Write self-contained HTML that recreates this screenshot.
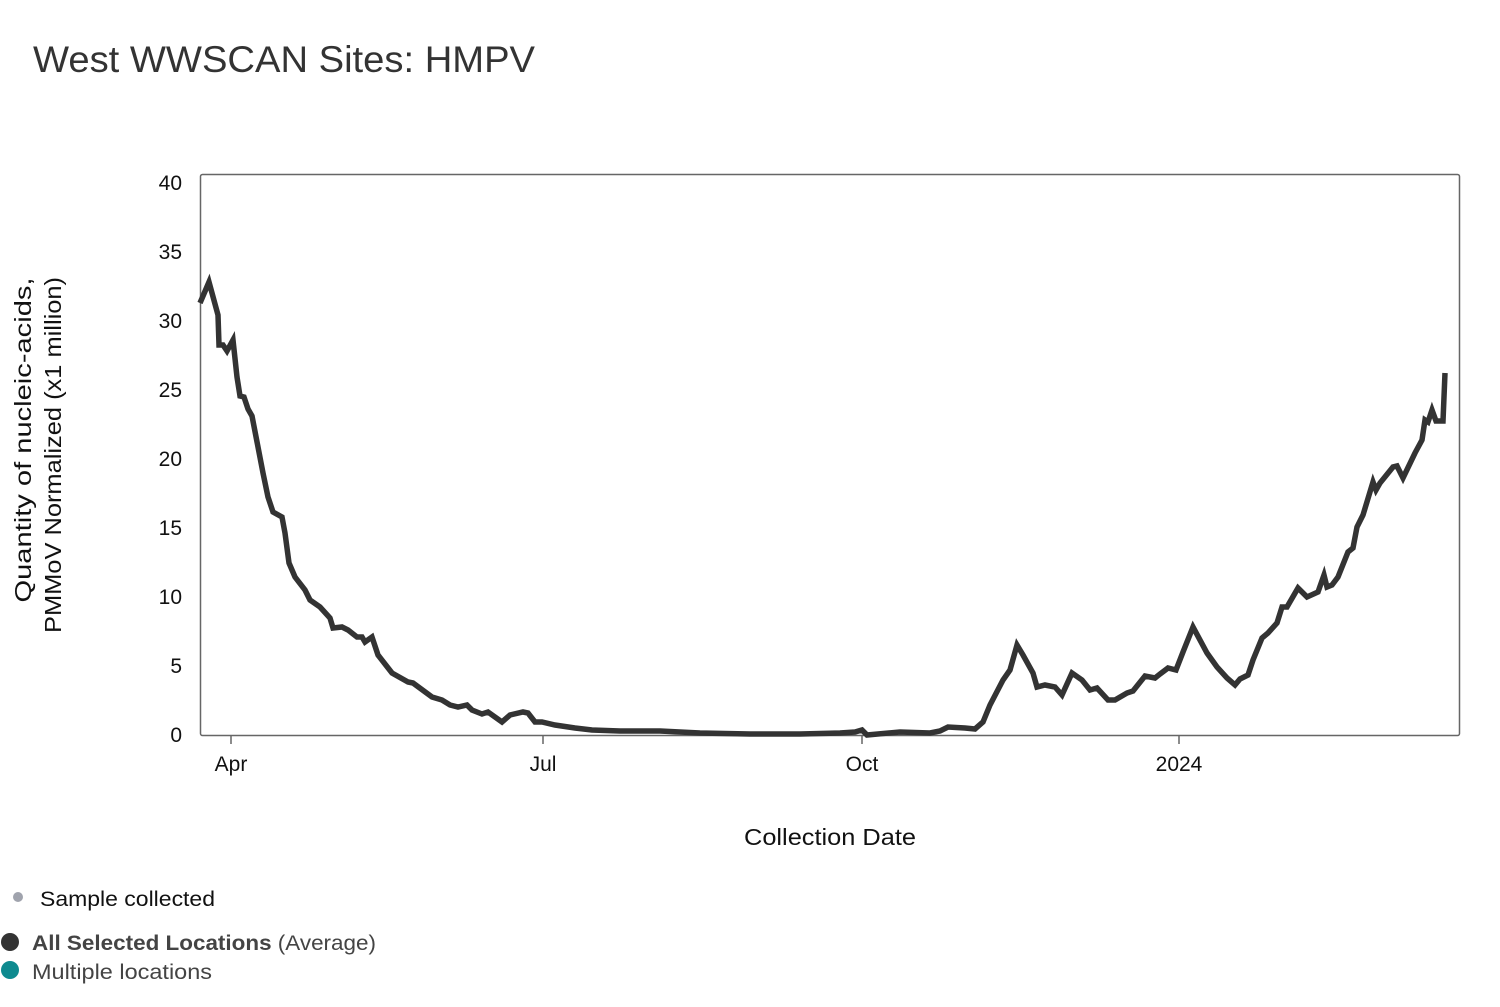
<!DOCTYPE html>
<html><head><meta charset="utf-8"><style>
body{margin:0;background:#fff;width:1500px;height:1002px;overflow:hidden;font-family:"Liberation Sans",sans-serif}
</style></head><body>
<svg width="1500" height="1002" xmlns="http://www.w3.org/2000/svg" font-family="Liberation Sans, sans-serif">
<text x="33" y="72" font-size="37" fill="#333" textLength="502" lengthAdjust="spacingAndGlyphs">West WWSCAN Sites: HMPV</text>
<rect x="200.5" y="174.5" width="1259" height="561" fill="none" stroke="#666" stroke-width="1.5" rx="2"/>
<g font-size="21" fill="#111" text-anchor="end">
<text x="182" y="190">40</text><text x="182" y="259">35</text><text x="182" y="328">30</text>
<text x="182" y="397">25</text><text x="182" y="466">20</text><text x="182" y="535">15</text>
<text x="182" y="604">10</text><text x="182" y="673">5</text><text x="182" y="742">0</text>
</g>
<g stroke="#666" stroke-width="1.5"><line x1="231" y1="736" x2="231" y2="744"/><line x1="543" y1="736" x2="543" y2="744"/><line x1="862" y1="736" x2="862" y2="744"/><line x1="1179" y1="736" x2="1179" y2="744"/></g>
<g font-size="21" fill="#111" text-anchor="middle">
<text x="231" y="771">Apr</text><text x="543" y="771">Jul</text><text x="862" y="771">Oct</text><text x="1179" y="771">2024</text>
<text x="830" y="845" font-size="23" textLength="172" lengthAdjust="spacingAndGlyphs">Collection Date</text>
</g>
<text transform="translate(31,440) rotate(-90)" font-size="23" fill="#111" text-anchor="middle" textLength="325" lengthAdjust="spacingAndGlyphs">Quantity of nucleic-acids,</text>
<text transform="translate(61,455) rotate(-90)" font-size="23" fill="#111" text-anchor="middle" textLength="356" lengthAdjust="spacingAndGlyphs">PMMoV Normalized (x1 million)</text>
<polyline fill="none" stroke="#333" stroke-width="5.5" stroke-linejoin="miter" points="200,303 209,282 218,315 219,345 223,345 227,351 233,340 237,377 240,396 244,397 248,409 252,416 258,447 263,473 268,497 273,512 282,517 285,533 289,563 295,577 305,590 310,600 320,607 330,618 333,628 342,627 348,630 357,637 362,637 365,642 372,637 378,655 392,673 408,682 413,683 432,697 442,700 450,705 458,707 467,705 472,710 482,714 488,712 502,722 510,715 523,712 528,713 535,722 542,722 555,725 575,728 592,730 620,731 660,731 700,733 750,734 800,734 840,733 855,732 862,730 867,735 900,732 930,733 940,731 948,727 965,728 975,729 983,722 990,705 1003,680 1010,670 1017,645 1023,655 1033,673 1037,687 1045,685 1055,687 1062,695 1072,673 1082,680 1090,690 1097,688 1108,700 1115,700 1127,693 1133,691 1145,676 1155,678 1160,674 1168,668 1176,670 1183,652 1193,627 1207,653 1217,667 1227,678 1235,685 1240,679 1248,675 1253,660 1262,638 1268,633 1277,623 1282,607 1287,607 1298,588 1307,597 1318,592 1324,575 1327,587 1332,585 1338,577 1348,552 1353,548 1357,527 1363,515 1373,482 1376,490 1380,483 1393,467 1397,466 1403,478 1415,453 1422,440 1425,420 1428,422 1432,410 1436,421 1443,421 1445,373"/>
<circle cx="18" cy="897" r="5" fill="#a0a3ad"/>
<text x="40" y="906" font-size="21" fill="#111" textLength="175" lengthAdjust="spacingAndGlyphs">Sample collected</text>
<circle cx="10" cy="942" r="9" fill="#333"/>
<text x="32" y="950" font-size="21" fill="#444" textLength="344" lengthAdjust="spacingAndGlyphs"><tspan font-weight="bold">All Selected Locations</tspan> (Average)</text>
<circle cx="10" cy="970" r="9" fill="#0e8a8f"/>
<text x="32" y="979" font-size="21" fill="#444" textLength="180" lengthAdjust="spacingAndGlyphs">Multiple locations</text>
</svg>
</body></html>
